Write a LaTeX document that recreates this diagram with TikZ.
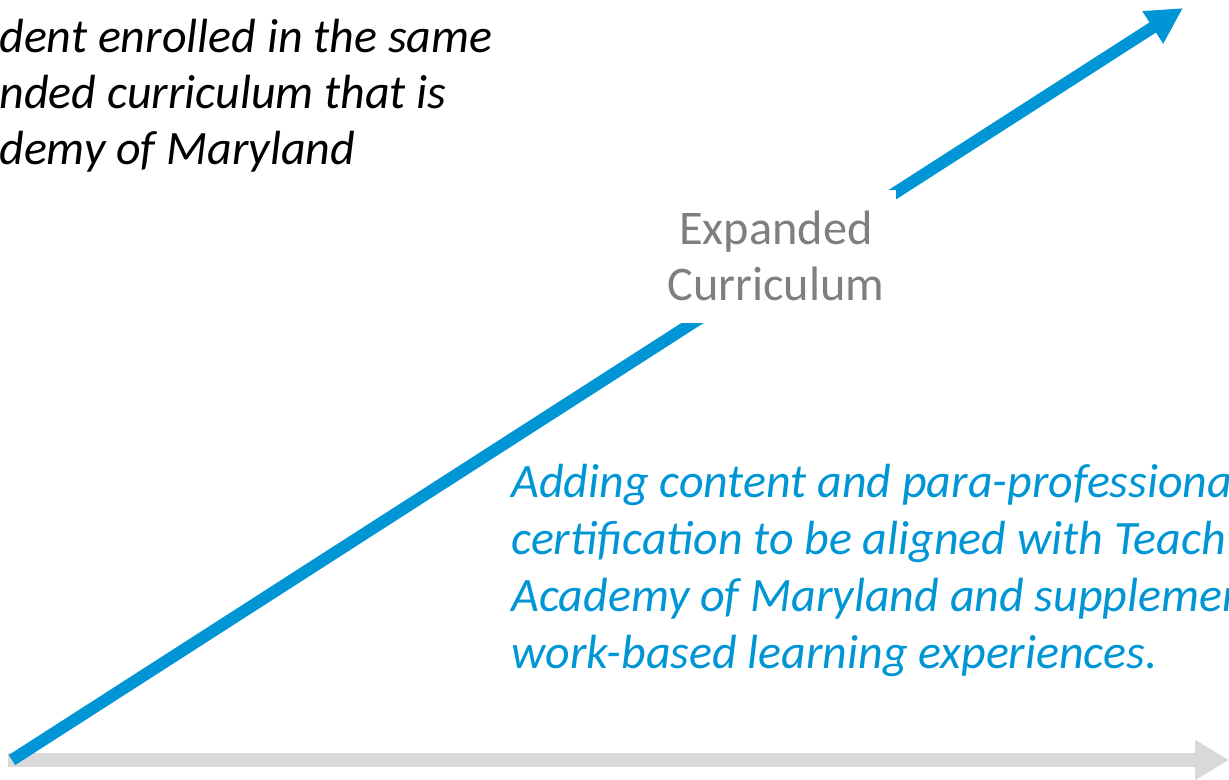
\documentclass[tikz,border=0pt]{standalone}
\usepackage{fontspec}
\setmainfont{Carlito}
\usetikzlibrary{arrows.meta,positioning}

\definecolor{tamblue}{RGB}{0,150,214}
\definecolor{axisgray}{RGB}{217,217,217}
\definecolor{labelgray}{RGB}{127,127,127}

\begin{document}
\begin{tikzpicture}[x=0.02cm,y=-0.02cm,
  note/.style={font=\fontsize{27.3}{32.4}\selectfont\itshape,inner sep=0pt,anchor=base west},
  growth/.style={line width=0.24cm,tamblue,-{Triangle[length=0.72cm,width=0.72cm]}},
  timeline/.style={line width=0.28cm,axisgray,-{Triangle[length=0.68cm,width=0.76cm]}}]
\useasboundingbox (0,0) rectangle (1229,779);
\clip (0,0) rectangle (1229,779);

% axes
\coordinate (axis-start) at (8,760);
\coordinate (axis-end) at (1229,760);
\coordinate (rise-start) at (12,760);
\coordinate (rise-end) at (1183,8);
\draw[timeline] (axis-start) -- (axis-end);
\draw[growth] (rise-start) -- (rise-end);

% label sits on the rising arrow
\node[fill=white,minimum width=4.8cm,minimum height=2.66cm,align=center,
  text=labelgray,font=\fontsize{27.5}{31.9}\selectfont] (curr) at (776,256)
  {Expanded\\Curriculum};

\foreach \L [count=\i] in
  {dent enrolled in the same,nded curriculum that is,demy of Maryland}
  \node[note] (student-\i) at (-1,{52+56*(\i-1)}) {\L};

\foreach \L [count=\i] in
  {Adding content and para-professiona,certification to be aligned with Teach,
   Academy of Maryland and supplemen,work-based learning experiences.}
  \node[note,text=tamblue] (adding-\i) at (511,{497+57*(\i-1)}) {\L};
\end{tikzpicture}
\end{document}
